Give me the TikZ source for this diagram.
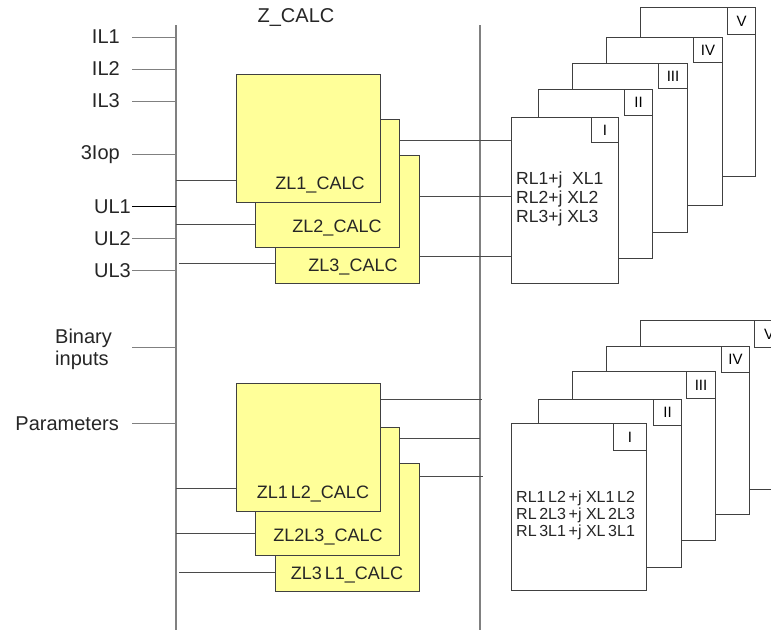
\documentclass[tikz,border=0pt]{standalone}
\usepackage{fontspec}
\setmainfont{Liberation Sans}
\definecolor{zyellow}{HTML}{FFFF99}
\definecolor{zedge}{HTML}{404040}
\definecolor{busgray}{HTML}{808080}
\definecolor{wirec}{HTML}{4A4A4A}
\begin{document}
\begin{tikzpicture}[x=1pt,y=-1pt,
  zbox/.style={draw=zedge, fill=zyellow, line width=1pt, anchor=north west, inner sep=0pt, minimum width=144pt, minimum height=128pt},
  rbox/.style={draw=black!75, fill=white, line width=1pt, anchor=north west, inner sep=0pt},
  tagbox/.style={draw=black!75, fill=white, line width=1pt, anchor=north east, inner sep=0pt, font=\fontsize{15}{18}\selectfont},
  busline/.style={draw=busgray, line width=1.4pt},
  wire/.style={draw=wirec, line width=1pt},
  lbl/.style={font=\fontsize{20}{24}\selectfont, inner sep=0pt, text=black!85},
  zlbl/.style={font=\fontsize{18}{20}\selectfont, inner sep=0pt, text=black!85},
  rtxt/.style={anchor=west, align=left, inner sep=0pt, text=black!85}]
\clip (0,0) rectangle (771,630);
\fill[white] (0,0) rectangle (771,630);

% buses
\coordinate (busLt) at (176,25);
\coordinate (busLb) at (176,630);
\coordinate (busRt) at (480,25);
\coordinate (busRb) at (480,630);
\draw[busline] (busLt) -- (busLb);
\draw[busline] (busRt) -- (busRb);

% title
\node[lbl] (title) at (296,18) {Z\_CALC};

% left labels
\node[lbl, anchor=east] (lIL1) at (120,37) {IL1};
\node[lbl, anchor=east] (lIL2) at (120,69) {IL2};
\node[lbl, anchor=east] (lIL3) at (120,101) {IL3};
\node[lbl, anchor=east] (lIop) at (120,155) {3Iop};
\node[lbl, anchor=east] (lUL1) at (131,207) {UL1};
\node[lbl, anchor=east] (lUL2) at (131,239) {UL2};
\node[lbl, anchor=east] (lUL3) at (131,271) {UL3};
\node[lbl, anchor=west, align=left, font=\fontsize{20}{22}\selectfont] (lBin) at (55,349) {Binary\\inputs};
\node[lbl, anchor=east] (lPar) at (119,424) {Parameters};

\coordinate (sIL1) at (132,37);
\coordinate (sIL2) at (132,69);
\coordinate (sIL3) at (132,101);
\coordinate (sIop) at (132,154);
\coordinate (sUL1) at (132,206);
\coordinate (sUL2) at (132,238);
\coordinate (sUL3) at (132,270);
\coordinate (sBin) at (132,347);
\coordinate (sPar) at (132,423);
\foreach \s in {sIL1,sIL2,sIL3,sIop,sUL2,sUL3,sBin,sPar}
  \draw[wire, draw=busgray] (\s) -- (\s -| busLt);
\draw[wire, draw=black] (sUL1) -- (sUL1 -| busLt);

% upper right boxes (back to front)
\node[rbox, minimum width=115pt, minimum height=169pt] (u5) at (640,7) {};
\node[tagbox, minimum width=28pt, minimum height=27pt] (u5t) at (u5.north east) {V};
\node[rbox, minimum width=116pt, minimum height=168pt] (u4) at (606,37) {};
\node[tagbox, minimum width=29pt, minimum height=25pt] (u4t) at (u4.north east) {IV};
\node[rbox, minimum width=115pt, minimum height=169pt] (u3) at (572,63) {};
\node[tagbox, minimum width=29pt, minimum height=25pt] (u3t) at (u3.north east) {III};
\node[rbox, minimum width=114pt, minimum height=169pt] (u2) at (538,89) {};
\node[tagbox, minimum width=28pt, minimum height=26pt] (u2t) at (u2.north east) {II};
\node[rbox, minimum width=107pt, minimum height=166pt] (u1) at (511,117) {};
\node[tagbox, minimum width=27pt, minimum height=25pt] (u1t) at (u1.north east) {I};
\node[rtxt, font=\fontsize{17.5}{19}\selectfont] (u1txt) at (516,199) {RL1+j\ \ XL1\\RL2+j XL2\\RL3+j XL3};

% lower right boxes (back to front)
\node[rbox, minimum width=143pt, minimum height=169pt] (d5) at (640,320) {};
\node[tagbox, minimum width=29pt, minimum height=27pt] (d5t) at (d5.north east) {V};
\node[rbox, minimum width=143pt, minimum height=168pt] (d4) at (606,346) {};
\node[tagbox, minimum width=28pt, minimum height=26pt] (d4t) at (d4.north east) {IV};
\node[rbox, minimum width=143pt, minimum height=169pt] (d3) at (572,371) {};
\node[tagbox, minimum width=29pt, minimum height=27pt] (d3t) at (d3.north east) {III};
\node[rbox, minimum width=143pt, minimum height=168pt] (d2) at (538,399) {};
\node[tagbox, minimum width=28pt, minimum height=26pt] (d2t) at (d2.north east) {II};
\node[rbox, minimum width=135pt, minimum height=167pt] (d1) at (511,423) {};
\node[tagbox, minimum width=33pt, minimum height=27pt] (d1t) at (d1.north east) {I};
\node[rtxt, font=\fontsize{16}{17}\selectfont] (d1txt) at (516,515) {RL1\,L2\,+j XL1\,L2\\RL\,2L3\,+j XL\,2L3\\RL\,3L1\,+j XL\,3L1};

% upper ZL boxes (back to front)
\node[zbox] (zl3) at (275,155) {};
\node[zbox] (zl2) at (255,119) {};
\node[zbox] (zl1) at (236,74) {};
\node[zlbl] (zl1l) at (320,185) {ZL1\_CALC};
\node[zlbl] (zl2l) at (337,228) {ZL2\_CALC};
\node[zlbl] (zl3l) at (353,267) {ZL3\_CALC};

% lower ZL boxes (back to front)
\node[zbox] (zm3) at (275,463) {};
\node[zbox] (zm2) at (255,427) {};
\node[zbox] (zm1) at (236,383) {};
\node[zlbl] (zm1l) at (313,494) {ZL1\,L2\_CALC};
\node[zlbl] (zm2l) at (328,537) {ZL2L3\_CALC};
\node[zlbl] (zm3l) at (347,575) {ZL3\,L1\_CALC};

% upper inputs
\coordinate (ui1) at (176,180);
\coordinate (ui2) at (176,224);
\coordinate (ui3) at (179,263);
\draw[wire] (ui1) -- (ui1 -| zl1.west);
\draw[wire] (ui2) -- (ui2 -| zl2.west);
\draw[wire] (ui3) -- (ui3 -| zl3.west);

% upper outputs
\coordinate (uo1) at (0,140);
\coordinate (uo2) at (0,196);
\coordinate (uo3) at (0,256);
\draw[wire] (uo1 -| zl2.east) -- (uo1 -| u1.west);
\draw[wire] (uo2 -| zl3.east) -- (uo2 -| u1.west);
\draw[wire] (uo3 -| zl3.east) -- (uo3 -| u1.west);

% lower inputs
\coordinate (di1) at (176,488);
\coordinate (di2) at (176,533);
\coordinate (di3) at (179,572);
\draw[wire] (di1) -- (di1 -| zm1.west);
\draw[wire] (di2) -- (di2 -| zm2.west);
\draw[wire] (di3) -- (di3 -| zm3.west);

% lower outputs
\coordinate (do1) at (482,399);
\coordinate (do2) at (480,438);
\coordinate (do3) at (483,476);
\draw[wire] (do1 -| zm1.east) -- (do1);
\draw[wire] (do2 -| zm2.east) -- (do2);
\draw[wire] (do3 -| zm3.east) -- (do3);
\end{tikzpicture}
\end{document}
